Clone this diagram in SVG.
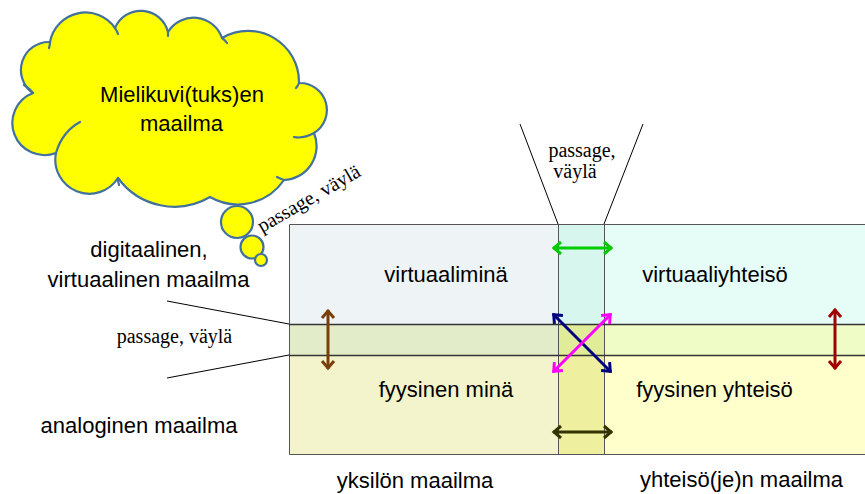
<svg xmlns="http://www.w3.org/2000/svg" width="865" height="494" viewBox="0 0 865 494">
<style>
.sans{font-family:"Liberation Sans",Arial,sans-serif;font-size:22px;fill:#000;text-anchor:middle}
.serif{font-family:"Liberation Serif","Times New Roman",serif;font-size:20px;fill:#000;text-anchor:middle}
.cloud{fill:#FFFF00;stroke:#41719C;stroke-width:2.2;stroke-linejoin:round}
.inner{fill:none;stroke:#41719C;stroke-width:2.2;stroke-linecap:round}
.grid{stroke:#555;stroke-width:1;fill:none}
.band{stroke:#333;stroke-width:1.3;fill:none}
.thin{stroke:#000;stroke-width:1;fill:none}
.arr{fill:none;stroke-width:3}
</style>
<defs>
<marker id="mGreen" markerUnits="userSpaceOnUse" markerWidth="20" markerHeight="20" viewBox="-10 -10 20 20" refX="0" refY="0" orient="auto-start-reverse"><path d="M-8,-6 L-1,0 L-8,6" fill="none" stroke="#00CC00" stroke-width="3"/></marker>
<marker id="mBrown" markerUnits="userSpaceOnUse" markerWidth="20" markerHeight="20" viewBox="-10 -10 20 20" refX="0" refY="0" orient="auto-start-reverse"><path d="M-8,-6 L-1,0 L-8,6" fill="none" stroke="#7A3E0A" stroke-width="3"/></marker>
<marker id="mRed" markerUnits="userSpaceOnUse" markerWidth="20" markerHeight="20" viewBox="-10 -10 20 20" refX="0" refY="0" orient="auto-start-reverse"><path d="M-8,-6 L-1,0 L-8,6" fill="none" stroke="#A00000" stroke-width="3"/></marker>
<marker id="mNavy" markerUnits="userSpaceOnUse" markerWidth="20" markerHeight="20" viewBox="-10 -10 20 20" refX="0" refY="0" orient="auto-start-reverse"><path d="M-8,-6 L-1,0 L-8,6" fill="none" stroke="#000080" stroke-width="3"/></marker>
<marker id="mMagenta" markerUnits="userSpaceOnUse" markerWidth="20" markerHeight="20" viewBox="-10 -10 20 20" refX="0" refY="0" orient="auto-start-reverse"><path d="M-8,-6 L-1,0 L-8,6" fill="none" stroke="#FF00FF" stroke-width="3"/></marker>
<marker id="mOlive" markerUnits="userSpaceOnUse" markerWidth="20" markerHeight="20" viewBox="-10 -10 20 20" refX="0" refY="0" orient="auto-start-reverse"><path d="M-8,-6 L-1,0 L-8,6" fill="none" stroke="#333300" stroke-width="3"/></marker>
</defs>

<g id="cloud">
<path class="cloud" d="M50,42 A36,36 0 0 1 115,28 A28,28 0 0 1 168,32 A30,30 0 0 1 222,38 A51,51 0 0 1 299,83 A27,27 0 0 1 314,133 A34,34 0 0 1 284,180 A56,56 0 0 1 210,197 A70,70 0 0 1 118,178 A34,34 0 0 1 56,153 A32,32 0 0 1 33,93 A28,28 0 0 1 50,42 Z"/>
<path class="inner" d="M115,28 q2,3 3,6 M168,32 l0,4 M222,38 q3,2 5,5 M299,83 q-1,3 -3,5 M314,133 Q303,139 294,137 M284,180 q-3,-1 -7,-3 M56,153 Q62,132 80,122 M33,93 q-4,-5 -9,-8 M50,42 q0,3 -1,6 M118,178 q0,4 1,7"/>
<circle class="cloud" cx="237" cy="222" r="16"/>
<circle class="cloud" cx="252" cy="247" r="11.5"/>
<circle class="cloud" cx="261" cy="260" r="6"/>
<text class="sans" x="182" y="102">Mielikuvi(tuks)en</text>
<text class="sans" x="181.5" y="131">maailma</text>
</g>

<g id="cells">
<rect x="289" y="224" width="269" height="100" fill="#EEF4F5"/>
<rect x="558" y="224" width="46" height="100" fill="#D6F6EE"/>
<rect x="604" y="224" width="261" height="100" fill="#E6FCF6"/>
<rect x="289" y="324" width="269" height="31" fill="#E3ECC8"/>
<rect x="558" y="324" width="46" height="31" fill="#E0EC98"/>
<rect x="604" y="324" width="261" height="31" fill="#EFFCC6"/>
<rect x="289" y="355" width="269" height="99" fill="#F3F4CB"/>
<rect x="558" y="355" width="46" height="99" fill="#EEF0A0"/>
<rect x="604" y="355" width="261" height="99" fill="#FFFFCC"/>
<path class="grid" d="M866,224.5 H289.5 V454.5 H866 M558.5,224 V454 M604.5,224 V454"/>
<path class="band" d="M289,324.5 H865 M289,355.5 H865"/>
</g>

<g id="virtuaaliminä"><text class="sans" x="446" y="282">virtuaaliminä</text></g>
<g id="virtuaaliyhteisö"><text class="sans" x="715" y="282">virtuaaliyhteisö</text></g>
<g id="fyysinen-minä"><text class="sans" x="446" y="397">fyysinen minä</text></g>
<g id="fyysinen-yhteisö"><text class="sans" x="714.5" y="397">fyysinen yhteisö</text></g>
<g id="yksilön-maailma"><text class="sans" x="415" y="488">yksilön maailma</text></g>
<g id="yhteisöjen-maailma"><text class="sans" x="741.5" y="487">yhteisö(je)n maailma</text></g>
<g id="digitaalinen"><text class="sans" x="149" y="257">digitaalinen,</text><text class="sans" x="148.5" y="287">virtuaalinen maailma</text></g>
<g id="analoginen"><text class="sans" x="139" y="433">analoginen maailma</text></g>
<g id="passage-left"><text class="serif" x="174.5" y="343">passage, väylä</text></g>
<g id="passage-top"><text class="serif" x="582" y="157">passage,</text><text class="serif" x="575" y="178">väylä</text></g>
<g id="passage-cloud"><text class="serif" x="0" y="0" text-anchor="start" style="text-anchor:start" transform="translate(262,233) rotate(-30)">passage, väylä</text></g>

<g id="connectors">
<path class="thin" d="M520,124 L558,224 M643,124 L604,224 M167,301 L289,324 M167,378 L289,355"/>
<line class="arr" stroke="#00CC00" x1="553" y1="248" x2="612" y2="248" marker-start="url(#mGreen)" marker-end="url(#mGreen)"/>
<line class="arr" stroke="#7A3E0A" x1="328" y1="310" x2="328" y2="369" marker-start="url(#mBrown)" marker-end="url(#mBrown)"/>
<line class="arr" stroke="#A00000" x1="835" y1="309" x2="835" y2="369" marker-start="url(#mRed)" marker-end="url(#mRed)"/>
<line class="arr" stroke="#000080" x1="553" y1="314" x2="611" y2="372" marker-start="url(#mNavy)" marker-end="url(#mNavy)"/>
<line class="arr" stroke="#FF00FF" x1="553" y1="372" x2="611" y2="314" marker-start="url(#mMagenta)" marker-end="url(#mMagenta)"/>
<line class="arr" stroke="#333300" x1="553" y1="432" x2="612" y2="432" marker-start="url(#mOlive)" marker-end="url(#mOlive)"/>
</g>
</svg>
